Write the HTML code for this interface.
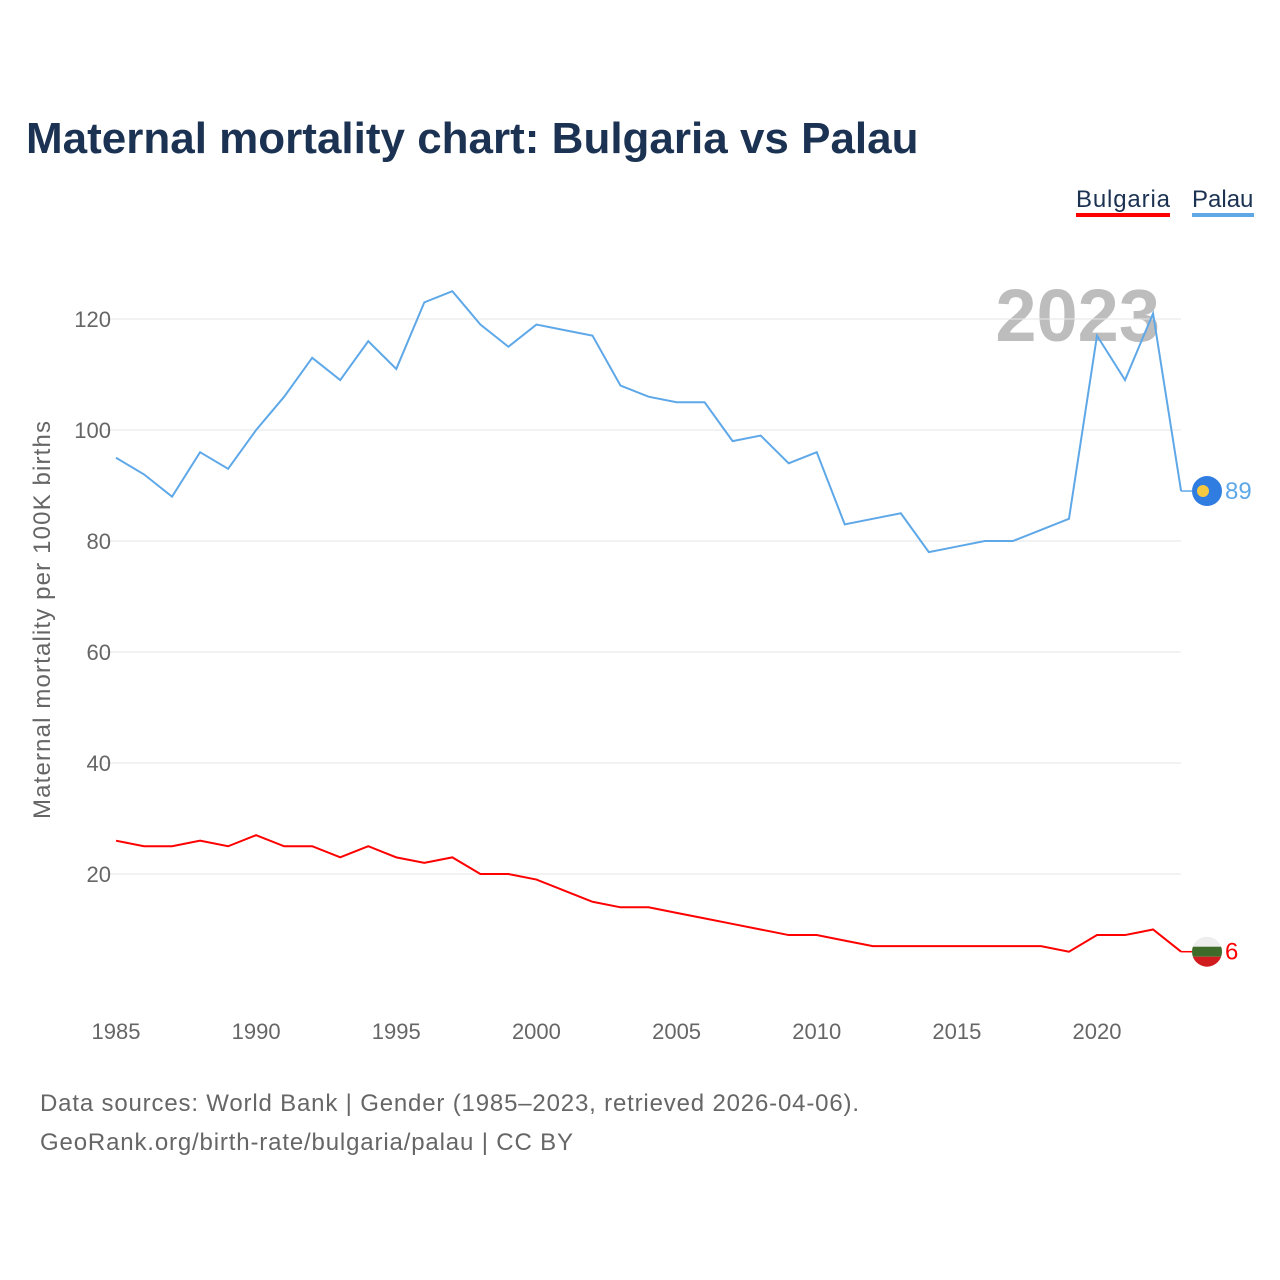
<!DOCTYPE html>
<html><head><meta charset="utf-8"><style>
body{margin:0;background:#fff;font-family:"Liberation Sans",sans-serif;}
svg{display:block}
</style></head><body>
<svg id="chart" width="1280" height="1280">
<defs><clipPath id="bgclip"><circle id="bgc" cx="1207" cy="950" r="15"/></clipPath></defs>
<text x="26" y="153" font-size="44" font-weight="bold" fill="#1b3252">Maternal mortality chart: Bulgaria vs Palau</text>
<g>
<text x="1076" y="207" font-size="24" fill="#1b3252" textLength="94">Bulgaria</text>
<rect x="1076" y="213" width="94" height="4" fill="#ff0000"/></g>
<g>
<text x="1192" y="207" font-size="24" fill="#1b3252">Palau</text>
<rect x="1192" y="213" width="62" height="4" fill="#5fa8e8"/></g>
<text x="1160" y="341" font-size="74" font-weight="bold" fill="#bdbdbd" text-anchor="end">2023</text>
<text transform="translate(50,620) rotate(-90)" font-size="24" fill="#666" text-anchor="middle" textLength="398">Maternal mortality per 100K births</text>
<g id="grid"></g><g id="xt"></g><g id="lines"></g>
<text x="40" y="1111" font-size="24" fill="#666" textLength="819">Data sources: World Bank | Gender (1985–2023, retrieved 2026-04-06).</text>
<text x="40" y="1150" font-size="24" fill="#666" textLength="533">GeoRank.org/birth-rate/bulgaria/palau | CC BY</text>
</svg>
<script>
const years=[];for(let y=1985;y<=2023;y++)years.push(y);
const palau=[95,92,88,96,93,100,106,113,109,116,111,123,125,119,115,119,118,117,108,106,105,105,98,99,94,96,83,84,85,78,79,80,80,82,84,117,109,121,89];
const bulgaria=[26,25,25,26,25,27,25,25,23,25,23,22,23,20,20,19,17,15,14,14,13,12,11,10,9,9,8,7,7,7,7,7,7,7,6,9,9,10,6];
const yTicks=[20,40,60,80,100,120];
const xTicks=[1985,1990,1995,2000,2005,2010,2015,2020];
const NS="http://www.w3.org/2000/svg";
const X=y=>116+(y-1985)*(1097-116)/35;
const Y=v=>985-v*5.55;
function mk(t,a,p){const e=document.createElementNS(NS,t);for(const k in a)e.setAttribute(k,a[k]);p.appendChild(e);return e;}
const grid=document.getElementById('grid');
yTicks.forEach(v=>{
const l=mk('line',{x1:105,x2:1181,y1:Y(v),y2:Y(v),stroke:'#e6e6e6','stroke-width':1},grid);


const t=mk('text',{x:111,y:Y(v)+8,'font-size':22,fill:'#666','text-anchor':'end'},grid);t.textContent=v;


});
const xt=document.getElementById('xt');
xTicks.forEach(v=>{
const t=mk('text',{x:X(v),y:1039,'font-size':22,fill:'#666','text-anchor':'middle'},xt);t.textContent=v;


});
const lines=document.getElementById('lines');
function series(d,c,name){
const p=mk('polyline',{points:d.map((v,i)=>X(years[i])+','+Y(v)).join(' '),fill:'none',stroke:c,'stroke-width':2},lines);


const last=d[d.length-1],ly=Y(last);
const g=mk('g',{},lines);


mk('line',{x1:X(2023),x2:1192,y1:ly,y2:ly,stroke:c,'stroke-width':1.5},g);
if(name==='palau'){mk('circle',{cx:1207,cy:ly,r:15,fill:'#2f7de1'},g);mk('circle',{cx:1203,cy:ly,r:6,fill:'#f5c842'},g);}
else{document.getElementById('bgc').setAttribute('cy',ly);
const f=mk('g',{'clip-path':'url(#bgclip)'},g);
mk('rect',{x:1190,y:ly-16,width:34,height:11,fill:'#eeeeee'},f);mk('rect',{x:1190,y:ly-5,width:34,height:10,fill:'#3f6b2a'},f);mk('rect',{x:1190,y:ly+5,width:34,height:11,fill:'#d01c1f'},f);}
const t=mk('text',{x:1225,y:ly+8,'font-size':24,fill:c},g);t.textContent=last;
}
series(palau,'#5fa8e8','palau');
series(bulgaria,'#ff0000','bulgaria');
</script>
</body></html>
